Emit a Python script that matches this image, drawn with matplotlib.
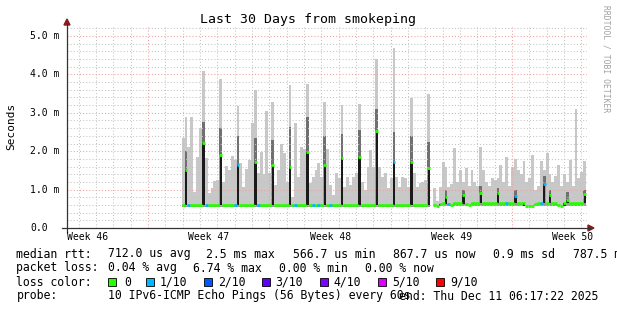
import numpy as np
import matplotlib.pyplot as plt
from matplotlib.lines import Line2D
from matplotlib.patches import Rectangle, Polygon

# Smokeping data, one column every 4 hours (6 per day), times in days from axis start
t_start = 6.617
step = 1 / 6

# top of the smoke (slowest ping), ms
smoke_hi = [
    2.35, 2.88, 2.12, 2.88, 0.95, 1.86,   # day 0
    2.60, 4.09, 1.81, 0.90, 1.05, 1.22,
    1.25, 3.88, 1.20, 1.62, 1.50, 1.88,
    1.77, 3.19, 1.70, 1.08, 1.53, 1.77,
    2.74, 3.59, 1.42, 1.99, 1.40, 3.05,
    1.42, 3.29, 1.12, 1.51, 2.19, 1.95,   # day 5
    1.20, 3.72, 0.82, 2.73, 1.34, 2.12,
    2.07, 3.74, 1.16, 1.34, 1.51, 1.68,
    1.34, 3.29, 2.06, 1.12, 0.86, 1.42,
    1.29, 3.20, 1.08, 1.34, 1.12, 1.34,
    1.42, 3.23, 1.20, 0.99, 1.60, 2.03,   # day 10
    1.60, 4.39, 1.60, 1.34, 1.42, 1.03,
    1.30, 4.70, 1.34, 1.08, 1.34, 1.30,
    1.08, 3.38, 1.42, 1.08, 1.16, 1.20,
    1.25, 3.49, np.nan, 1.03, 0.70, 1.08,
    1.73, 1.60, 1.08, 1.15, 2.08, 1.20,   # day 15
    1.50, 1.20, 1.55, 1.10, 1.50, 1.20,
    1.10, 2.10, 1.50, 1.20, 1.10, 1.30,
    1.25, 1.30, 1.65, 1.20, 1.86, 1.10,
    1.60, 1.80, 1.50, 1.40, 1.75, 1.20,
    1.30, 1.90, 1.00, 1.10, 1.75, 1.50,   # day 20
    1.95, 1.40, 1.20, 1.35, 1.65, 1.10,
    1.40, 1.20, 1.77, 1.10, 3.10, 1.30,
    1.45, 1.75,
]

# median rtt, ms
median = [
    0.61, 1.51, 0.61, 0.61, 0.61, 0.61,
    0.61, 2.22, 0.61, 0.61, 0.61, 0.61,
    0.61, 1.91, 0.61, 0.61, 0.61, 0.61,
    0.61, 1.64, 0.61, 0.61, 0.61, 0.61,
    0.61, 1.72, 0.61, 0.61, 0.61, 0.61,
    0.61, 1.65, 0.61, 0.61, 0.61, 0.61,
    0.61, 1.60, 0.61, 0.61, 0.61, 0.61,
    0.61, 1.97, 0.61, 0.61, 0.61, 0.61,
    0.61, 1.64, 0.61, 0.61, 0.61, 0.61,
    0.61, 1.83, 0.61, 0.61, 0.61, 0.61,
    0.61, 1.85, 0.61, 0.61, 0.61, 0.61,
    0.61, 2.53, 0.61, 0.61, 0.61, 0.61,
    0.61, 1.73, 0.61, 0.61, 0.61, 0.61,
    0.61, 1.72, 0.61, 0.61, 0.61, 0.61,
    0.61, 1.55, np.nan, 0.60, 0.56, 0.62,
    0.66, 0.82, 0.62, 0.60, 0.64, 0.66,
    0.66, 0.86, 0.62, 0.60, 0.64, 0.66,
    0.66, 0.90, 0.66, 0.66, 0.64, 0.66,
    0.66, 0.90, 0.66, 0.65, 0.66, 0.66,
    0.66, 0.84, 0.66, 0.66, 0.64, 0.58,
    0.56, 0.58, 0.62, 0.66, 0.64, 1.15,
    0.66, 0.86, 0.66, 0.66, 0.60, 0.58,
    0.64, 0.73, 0.66, 0.66, 0.66, 0.66,
    0.66, 0.88,
]

# bottom of the smoke (fastest ping) for the two periods, split at column 86
smoke_lo_levels = [0.54, 0.58]
split_col = 86

# dark smoke band above the median at the daily spikes
spike_cols = [1, 7, 13, 19, 25, 31, 37, 43, 49, 55, 61, 67, 73, 79, 85,
              91, 97, 103, 109, 115, 125, 127, 133, 139]
spike_dark = [2.00, 2.77, 2.60, 2.40, 2.35, 2.30, 2.62, 2.90, 2.40, 2.45, 2.55, 3.10, 2.50, 2.40, 2.25,
              1.00, 1.00, 1.10, 1.05, 1.00, 1.35, 1.00, 0.95, 1.00]

# columns with 1/10 packet loss (all others 0)
loss_1_cols = [2, 8, 18, 19, 26, 39, 45, 47, 51, 73, 92, 112, 115, 124, 125]

loss_labels = ['0', '1/10', '2/10', '3/10', '4/10', '5/10', '9/10']
loss_colors = ['#26ff00', '#00b8ff', '#0059ff', '#5e00ff', '#7e00ff', '#dd00ff', '#ff0000']

W, H = 617, 310
fig = plt.figure(figsize=(W / 100, H / 100), dpi=100)
fig.patch.set_facecolor('white')


def fx(x):
    return x / W


def fy(y):
    return 1 - y / H


ax = fig.add_axes([fx(67), fy(228), 520 / W, 201 / H])
ax.set_xlim(0, 30)
ax.set_ylim(0, 201 / 38.4)
ax.axis('off')

smoke_hi = np.array(smoke_hi)
median = np.array(median)
n = len(median)
left = t_start + np.arange(n) * step
lo = np.where(np.arange(n) < split_col, smoke_lo_levels[0], smoke_lo_levels[1])

# smoke
ax.bar(left, smoke_hi - lo, bottom=lo, width=step, align='edge', color='#c8c8c8', lw=0, zorder=1)
ax.bar(left, median - lo, bottom=lo, width=step, align='edge', color='#9a9a9a', lw=0, zorder=1.1)
sc = np.array(spike_cols)
ax.bar(left[sc], np.array(spike_dark) - median[sc], bottom=median[sc], width=step,
       align='edge', color='#707070', lw=0, zorder=1.2)

# grid
dots = (0, (1, 2))
for d in np.arange(0.667, 30, 1.0):
    major = abs(((d - 4.667) / 7) - round((d - 4.667) / 7)) < 0.01
    ax.axvline(d, color='#f0a0a0' if major else '#c4c4c4', lw=0.75, ls=dots, zorder=2)
for v in np.arange(0.2, 5.21, 0.2):
    major = abs(v - round(v)) < 0.01
    ax.axhline(v, color='#f0a0a0' if major else '#c4c4c4', lw=0.75, ls=dots, zorder=2)

# median: black rises, coloured by loss
prev = np.concatenate([[np.nan], median[:-1]])
nxt = np.concatenate([median[1:], [np.nan]])
base = np.fmin(prev, nxt)
rise = median - base
mask = rise > 0.05
ax.bar(left[mask] + 0.1 * step, rise[mask], bottom=base[mask], width=0.8 * step, align='edge',
       color='#1a1a1a', lw=0, zorder=3)
cols = [loss_colors[1] if k in loss_1_cols else loss_colors[0] for k in range(n)]
ok = ~np.isnan(median)
ax.hlines(median[ok], left[ok], left[ok] + step, colors=np.array(cols)[ok], lw=2.0,
          capstyle='butt', zorder=4)

# axes with arrows
fig.add_artist(Line2D([fx(62), fx(590)], [fy(228), fy(228)], color='#333333', lw=0.9))
fig.add_artist(Line2D([fx(67), fx(67)], [fy(232), fy(24)], color='#333333', lw=0.9))
fig.add_artist(Polygon([[fx(588), fy(225)], [fx(594), fy(228)], [fx(588), fy(231)]],
                       closed=True, color='#8b1a1a', transform=fig.transFigure))
fig.add_artist(Polygon([[fx(64), fy(25)], [fx(67), fy(19)], [fx(70), fy(25)]],
                       closed=True, color='#8b1a1a', transform=fig.transFigure))

mono = 'DejaVu Sans Mono'

# y tick labels
for i, lab in enumerate(['0.0', '1.0 m', '2.0 m', '3.0 m', '4.0 m', '5.0 m']):
    fig.text(fx(30), fy(228 - i * 38.4), lab, family=mono, fontsize=7, va='center', ha='left')

# week labels
for i, lab in enumerate(['Week 46', 'Week 47', 'Week 48', 'Week 49', 'Week 50']):
    fig.text(fx(67 + i * 121.3), fy(237), lab, family=mono, fontsize=7, va='center', ha='left')

fig.text(fx(308), fy(20), 'Last 30 Days from smokeping', family=mono, fontsize=9.5,
         ha='center', va='center')
fig.text(fx(11), fy(126), 'Seconds', family=mono, fontsize=8, rotation=90,
         ha='center', va='center')
fig.text(fx(606), fy(59), 'RRDTOOL / TOBI OETIKER', family=mono, fontsize=5.8, rotation=-90,
         ha='center', va='center', color='#a0a0a0')

# legend
fs = 8.3
rows = [
    (254, [(16.5, 'median rtt:'), (107.5, '712.0 us avg'), (205.5, '2.5 ms max'),
           (293.3, '566.7 us min'), (393.3, '867.7 us now'), (493.3, '0.9 ms sd'),
           (572.7, '787.5 m')]),
    (268, [(16.5, 'packet loss:'), (107.5, '0.04 % avg'), (192.9, '6.74 % max'),
           (278.7, '0.00 % min'), (365.4, '0.00 % now')]),
    (282, [(16.5, 'loss color:')]),
    (296, [(16.5, 'probe:'), (107.5, '10 IPv6-ICMP Echo Pings (56 Bytes) every 60s'),
           (398.6, 'end: Thu Dec 11 06:17:22 2025')]),
]
for y, items in rows:
    for x, s in items:
        fig.text(fx(x), fy(y), s, family=mono, fontsize=fs, va='center', ha='left')

box_x = [108.3, 145.7, 204, 261.8, 319.7, 378, 435.8]
text_x = [124, 159.4, 218.5, 275.6, 333.9, 392.5, 450]
for bx, tx, lab, c in zip(box_x, text_x, loss_labels, loss_colors):
    fig.add_artist(Rectangle((fx(bx), fy(286)), 8 / W, 8 / H, facecolor=c,
                             edgecolor='#000000', lw=0.6, transform=fig.transFigure))
    fig.text(fx(tx), fy(282), lab, family=mono, fontsize=fs, va='center', ha='left')

fig.savefig('out.png', dpi=100, facecolor='white')
